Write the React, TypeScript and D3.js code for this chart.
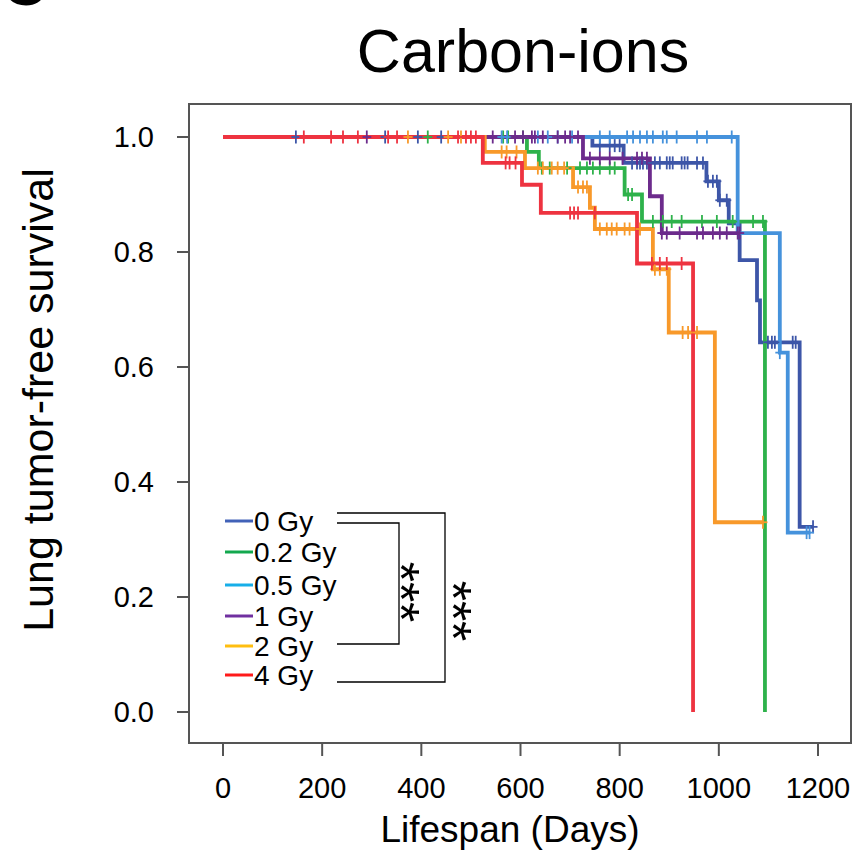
import React from "react";
import * as d3 from "d3";

const doseLabels = ["0 Gy", "0.2 Gy", "0.5 Gy", "1 Gy", "2 Gy", "4 Gy"];
const lineColors = ["#3d56a8", "#2eb24b", "#4592dc", "#6c2b8c", "#f8992a", "#ee3340"];
const legendColors = ["#4262b8", "#13a84e", "#17aee8", "#7030a0", "#ffbe10", "#ff1a1a"];

// Kaplan-Meier step data: event times (days) and survival after each step
const gy0Times = [0, 745, 808, 975, 1000, 1020, 1042, 1077, 1083, 1163];
const gy0Surv = [1, 0.985, 0.955, 0.923, 0.89, 0.85, 0.786, 0.716, 0.643, 0.322];
const gy0End = 1190;
const gy0Censor = [147, 327, 393, 440, 760, 780, 790, 800, 825, 835, 841, 847, 855, 871, 881, 895, 901, 907, 925, 931, 937, 956, 968, 978, 988, 996, 1002, 1016, 1099, 1107, 1113, 1149, 1155, 1190];

const gy02Times = [0, 613, 637, 810, 845, 1093];
const gy02Surv = [1, 0.974, 0.946, 0.9, 0.853, 0];
const gy02End = 1093;
const gy02Censor = [413, 565, 575, 605, 643, 659, 694, 720, 734, 746, 760, 780, 790, 817, 825, 867, 887, 905, 925, 966, 996, 1028, 1069, 1089];

const gy05Times = [0, 1038, 1123, 1139];
const gy05Surv = [1, 0.833, 0.625, 0.312];
const gy05End = 1183;
const gy05Censor = [562, 573, 635, 655, 675, 704, 760, 780, 815, 827, 841, 855, 867, 887, 895, 915, 956, 976, 1026, 1123, 1177, 1183];

const gy1Times = [0, 726, 861, 885];
const gy1Surv = [1, 0.963, 0.897, 0.833];
const gy1End = 1042;
const gy1Censor = [290, 544, 589, 605, 623, 629, 645, 675, 690, 700, 716, 740, 760, 780, 806, 835, 845, 855, 885, 895, 921, 956, 968, 988, 1002, 1016, 1038, 1042];

const gy2Times = [0, 528, 609, 706, 740, 750, 867, 899, 992];
const gy2Surv = [1, 0.974, 0.946, 0.913, 0.877, 0.84, 0.77, 0.66, 0.33];
const gy2End = 1089;
const gy2Censor = [373, 454, 480, 562, 572, 592, 635, 645, 663, 675, 688, 716, 726, 734, 760, 774, 784, 794, 810, 820, 841, 871, 881, 895, 927, 938, 956, 1089];

const gy4Times = [0, 524, 603, 641, 835, 948];
const gy4Surv = [1, 0.955, 0.917, 0.868, 0.78, 0];
const gy4End = 948;
const gy4Censor = [163, 218, 242, 272, 333, 351, 474, 490, 500, 510, 570, 578, 590, 700, 708, 716, 750, 865, 881, 895, 925];

const xTicks = [0, 200, 400, 600, 800, 1000, 1200];
const yTicks = [0, 0.2, 0.4, 0.6, 0.8, 1.0];

const seriesTimes = [gy0Times, gy02Times, gy05Times, gy1Times, gy2Times, gy4Times];
const seriesSurv = [gy0Surv, gy02Surv, gy05Surv, gy1Surv, gy2Surv, gy4Surv];
const seriesEnd = [gy0End, gy02End, gy05End, gy1End, gy2End, gy4End];
const seriesCensor = [gy0Censor, gy02Censor, gy05Censor, gy1Censor, gy2Censor, gy4Censor];

const FONT = "'Liberation Sans', Arial, Helvetica, sans-serif";

function survAt(times: number[], surv: number[], t: number) {
  let s = surv[0];
  for (let i = 0; i < times.length; i++) if (times[i] <= t) s = surv[i];
  return s;
}

export default function App() {
  const W = 858, H = 851;
  const x = d3.scaleLinear().domain([0, 1200]).range([223, 818]);
  const y = d3.scaleLinear().domain([0, 1]).range([712, 137]);
  const frame = { x0: 189, x1: 851, y0: 104, y1: 743 };

  const line = d3
    .line<[number, number]>()
    .x((d) => x(d[0]))
    .y((d) => y(d[1]))
    .curve(d3.curveStepAfter);

  const paths = seriesTimes.map((times, i) => {
    const pts: [number, number][] = times.map((t, j) => [t, seriesSurv[i][j]]);
    const last = pts[pts.length - 1];
    if (last[0] < seriesEnd[i]) pts.push([seriesEnd[i], last[1]]);
    return line(pts) || "";
  });

  const legendYs = [521, 552, 585, 616, 646, 675];

  return (
    <svg width={W} height={H} style={{ display: "block", position: "absolute", left: 0, top: 0 }}>
      <rect x={0} y={0} width={W} height={H} fill="#fff" />
      <text x={2} y={5} fontFamily={FONT} fontWeight="bold" fontSize={62} fill="#000">C</text>
      <text x={523} y={72} textAnchor="middle" fontFamily={FONT} fontSize={61} fill="#000">Carbon-ions</text>

      {/* frame */}
      <rect x={frame.x0} y={frame.y0} width={frame.x1 - frame.x0} height={frame.y1 - frame.y0} fill="none" stroke="#555" strokeWidth={2} />

      {/* axes ticks */}
      {xTicks.map((t) => (
        <g key={"x" + t}>
          <line x1={x(t)} x2={x(t)} y1={frame.y1} y2={frame.y1 + 13} stroke="#555" strokeWidth={2} />
          <text x={x(t)} y={798} textAnchor="middle" fontFamily={FONT} fontSize={29} fill="#000">{t}</text>
        </g>
      ))}
      {yTicks.map((t) => (
        <g key={"y" + t}>
          <line x1={frame.x0 - 12} x2={frame.x0} y1={y(t)} y2={y(t)} stroke="#555" strokeWidth={2} />
          <text x={154} y={y(t) + 10} textAnchor="end" fontFamily={FONT} fontSize={29} fill="#000">{t.toFixed(1)}</text>
        </g>
      ))}
      <text x={510} y={842} textAnchor="middle" fontFamily={FONT} fontSize={37} fill="#000">Lifespan (Days)</text>
      <text transform={`translate(53,400) rotate(-90)`} textAnchor="middle" fontFamily={FONT} fontSize={43} fill="#000">Lung tumor-free survival</text>

      {/* curves */}
      {paths.map((p, i) => (
        <path key={"p" + i} d={p} fill="none" stroke={lineColors[i]} strokeWidth={3.8} strokeLinejoin="miter" />
      ))}
      {seriesCensor.map((cs, i) =>
        cs.map((t, k) => {
          const cx = x(t);
          const cy = y(survAt(seriesTimes[i], seriesSurv[i], t));
          return (
            <g key={`c${i}-${k}`} stroke={lineColors[i]} strokeWidth={1.8}>
              <line x1={cx} x2={cx} y1={cy - 6.5} y2={cy + 6.5} />
              <line x1={cx - 4.5} x2={cx + 4.5} y1={cy} y2={cy} />
            </g>
          );
        })
      )}

      {/* legend */}
      {doseLabels.map((lab, i) => (
        <g key={"l" + i}>
          <line x1={225} x2={253} y1={legendYs[i]} y2={legendYs[i]} stroke={legendColors[i]} strokeWidth={3} />
          <text x={254} y={legendYs[i] + 10} fontFamily={FONT} fontSize={28} fill="#000">{lab}</text>
        </g>
      ))}

      {/* significance brackets */}
      <path d="M337,513 H445 V682 H337" fill="none" stroke="#000" strokeWidth={1.3} />
      <path d="M337,523 H399 V644 H337" fill="none" stroke="#000" strokeWidth={1.3} />
      <text transform="translate(383,592) rotate(90)" textAnchor="middle" fontFamily={FONT} fontSize={52} fill="#000">***</text>
      <text transform="translate(435,611) rotate(90)" textAnchor="middle" fontFamily={FONT} fontSize={52} fill="#000">***</text>
    </svg>
  );
}
